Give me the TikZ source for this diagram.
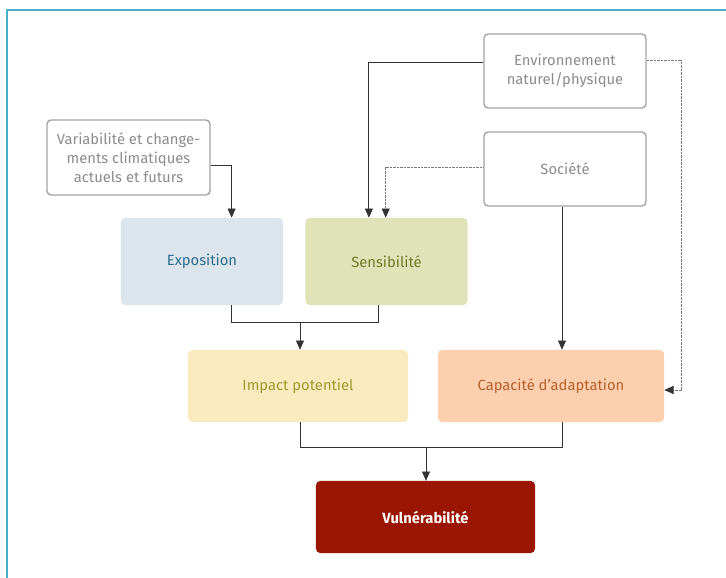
\documentclass[tikz,border=0pt]{standalone}
\usepackage{fontspec}
\setmainfont{Fira Sans}
\usepackage{xcolor}
\usepackage{tikz}
\usetikzlibrary{arrows.meta, positioning, calc}
\definecolor{VU_FRAME}{HTML}{4AAFCB}
\definecolor{VU_GREY}{HTML}{A3A3A3}
\definecolor{VU_GREYTXT}{HTML}{8C8C8C}
\definecolor{VU_DOT}{HTML}{7A7A7A}
\definecolor{VU_LINE}{HTML}{333333}
\definecolor{VU_EXPO}{HTML}{DCE4EC}
\definecolor{VU_EXPOTXT}{HTML}{2B6E8C}
\definecolor{VU_SENS}{HTML}{E0E3B8}
\definecolor{VU_SENSTXT}{HTML}{6E7B27}
\definecolor{VU_IMPACT}{HTML}{FAEBBF}
\definecolor{VU_IMPACTTXT}{HTML}{9E9A32}
\definecolor{VU_CAPA}{HTML}{FCD0AE}
\definecolor{VU_CAPATXT}{HTML}{B5602E}
\definecolor{VU_RED}{HTML}{9A1502}
\tikzset{
  driver/.style={
    rectangle, rounded corners=3pt,
    minimum width=4.05cm, minimum height=1.85cm,
    text centered, align=center,
    draw=VU_GREY, line width=1pt, fill=white,
    text=VU_GREYTXT, font=\fontsize{10.5}{13.5}\selectfont},
  factor/.style={
    rectangle, rounded corners=3pt,
    minimum width=4.05cm, minimum height=2.175cm,
    text centered, align=center, font=\fontsize{10.5}{13.5}\selectfont},
  result/.style={
    rectangle, rounded corners=3pt,
    minimum width=5.5cm, minimum height=1.8cm,
    text centered, align=center, font=\fontsize{10.5}{13.5}\selectfont},
  link/.style={line width=0.6pt, color=VU_LINE},
  arr/.style={-{Triangle[length=2.3mm,width=2mm]}, line width=0.6pt, color=VU_LINE},
  dotarr/.style={-{Triangle[length=2.3mm,width=2mm,color=VU_LINE]}, line width=0.5pt,
    color=VU_DOT, dash pattern=on 0.5pt off 0.5pt},
}

\begin{document}
\begin{tikzpicture}[x=0.025cm, y=-0.025cm]

  \useasboundingbox (0,0) rectangle (726,578);

  % page frame
  \draw[VU_FRAME, line width=1.5pt] (7,578) -- (7,10) -- (726,10);

  % drivers
  \node[driver] (env) at (565,71) {Environnement\\naturel/physique};
  \node[driver, minimum width=4.075cm, minimum height=1.875cm] (var) at (128.5,157.5)
    {Variabilité et change-\\ments climatiques\\actuels et futurs};
  \node[driver] (soc) at (565,169) {Société};

  % components
  \node[factor, fill=VU_EXPO, text=VU_EXPOTXT] (expo) at (202,261.5) {Exposition};
  \node[factor, fill=VU_SENS, text=VU_SENSTXT] (sens) at (386.5,261.5) {Sensibilité};

  \node[result, fill=VU_IMPACT, text=VU_IMPACTTXT] (impact) at (298,386) {Impact potentiel};
  \node[result, minimum width=5.65cm, fill=VU_CAPA, text=VU_CAPATXT] (capa) at (551,386)
    {Capacité d’adaptation};

  \node[result, minimum width=5.475cm, fill=VU_RED, text=white,
    font=\fontsize{10.5}{13.5}\selectfont\bfseries] (vuln) at (425.5,517) {Vulnérabilité};

  % arrows into the components
  \draw[arr] ([yshift=-2.1mm]var.east) -| ([xshift=7.4mm]expo.north);
  \draw[arr] ([yshift=2.2mm]env.west) -| ([xshift=-4.4mm]sens.north);
  \draw[dotarr] ([yshift=0.5mm]soc.west) -| ([xshift=-0.2mm]sens.north);
  \draw[arr] ([xshift=-0.75mm]soc.south) -- ([xshift=-0.75mm]soc.south |- capa.north);
  \draw[dotarr] ([yshift=2.7mm]env.east) -- ++(35,0) |- ([yshift=-1mm]capa.east);

  % joins
  \coordinate (j1) at (300,322);
  \coordinate (j2) at (426,447);

  \draw[link] ([xshift=7.3mm]expo.south) |- (j1);
  \draw[link] ([xshift=-2.1mm]sens.south) |- (j1);
  \draw[arr] (j1) -- (impact.north -| j1);

  \draw[link] ([xshift=0.5mm]impact.south) |- (j2);
  \draw[link] ([xshift=2.75mm]capa.south) |- (j2);
  \draw[arr] (j2) -- (vuln.north -| j2);

\end{tikzpicture}
\end{document}
